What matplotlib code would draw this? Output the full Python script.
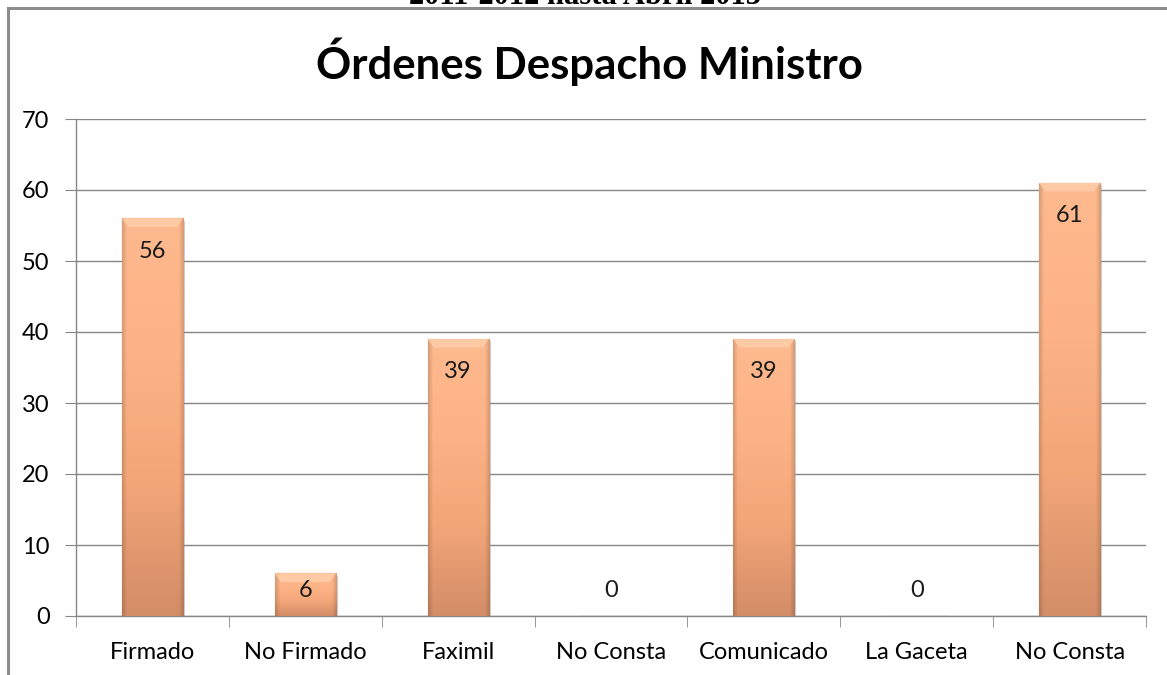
import numpy as np
import matplotlib
matplotlib.use("Agg")
import matplotlib.pyplot as plt
from matplotlib.colors import LinearSegmentedColormap
from matplotlib.patches import Rectangle, Polygon
from matplotlib.lines import Line2D

categories = ["Firmado", "No Firmado", "Faximil", "No Consta", "Comunicado", "La Gaceta", "No Consta"]
values = [56, 6, 39, 0, 39, 0, 61]
title = "Órdenes Despacho Ministro"
header = "2011-2012 hasta Abril 2013"

plt.rcParams['font.family'] = ['Lato', 'DejaVu Sans']

fig = plt.figure(figsize=(11.67, 6.75), dpi=100)
W, H = 1167, 675
ax = fig.add_axes([76 / W, 1 - 616 / H, (1146 - 76) / W, (616 - 119) / H])

# outer chart border
fig.add_artist(Line2D([8 / W, 8 / W], [0, 1 - 8 / H], color="#8c8c8c", lw=2.2, transform=fig.transFigure))
fig.add_artist(Line2D([8 / W, 1], [1 - 8 / H, 1 - 8 / H], color="#8c8c8c", lw=2.2, transform=fig.transFigure))

# header (clipped at top, as in the source)
fig.text(585 / W, 1 - 4 / H, header, ha="center", va="baseline", fontsize=22,
         fontweight="bold", family="Liberation Serif")

fig.text(0.505, 1 - 62 / H, title, ha="center", va="center", fontsize=31.5, fontweight="bold")

x = np.arange(len(categories))
bw = 0.4
bars = ax.bar(x, values, width=bw, color="#FDB386", edgecolor="#b87550", linewidth=0.8, zorder=3)

cmap = LinearSegmentedColormap.from_list("g", ["#D38D67", "#F3A678", "#FDB386", "#FEB98E"])
for b, v in zip(bars, values):
    if v <= 0:
        continue
    x0, w = b.get_x(), b.get_width()
    grad = np.linspace(0, 1, 256).reshape(-1, 1)
    hor = np.linspace(0, 1, 64).reshape(1, -1)
    vcol = cmap(grad)[:, :, :3]
    hedge = np.abs(hor - 0.5) * 2
    shade = np.clip((hedge - 0.85) / 0.15, 0, 1)[..., None] * 0.15
    img = vcol * (1 - shade)
    im = ax.imshow(img, extent=[x0, x0 + w, 0, v], origin="lower", aspect="auto", zorder=3.5)
    im.set_clip_path(b)
    # lighter bevel top (trapezoid)
    bev = 1.2
    ax.add_patch(Polygon([(x0, v), (x0 + w, v), (x0 + w * 0.9, v - bev), (x0 + w * 0.1, v - bev)],
                         closed=True, facecolor="#FFCCA8", edgecolor="none", zorder=3.6, alpha=0.9))
    # shadow
    ax.add_patch(Rectangle((x0 + w, 0), 0.012, v - 0.3, facecolor="#999999", edgecolor="none", alpha=0.45, zorder=2))

for xi, v in zip(x, values):
    ax.text(xi, max(v - 4.6, 3.6), str(v), ha="center", va="center", fontsize=17, color="#1a1a1a", zorder=5)

ax.set_xlim(-0.5, len(categories) - 0.5)
ax.set_ylim(0, 70)
ax.set_yticks(range(0, 71, 10))
ax.set_xticks(x)
ax.set_xticklabels(categories, fontsize=17)
ax.set_xticks(np.arange(-0.5, len(categories), 1), minor=True)
ax.tick_params(axis="x", which="major", length=0, pad=19)
ax.tick_params(axis="x", which="minor", length=8, color="#868686", direction="out")
ax.tick_params(axis="y", length=8, color="#868686", labelsize=17, pad=11)
ax.yaxis.grid(True, color="#868686", lw=1, zorder=0)
ax.set_axisbelow(True)
for s in ["top", "right"]:
    ax.spines[s].set_visible(False)
for s in ["left", "bottom"]:
    ax.spines[s].set_color("#868686")
    ax.spines[s].set_linewidth(1)

fig.savefig("out.png", dpi=100)
